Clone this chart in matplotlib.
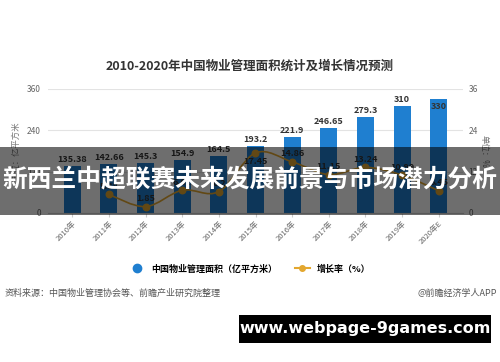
import numpy as np
import matplotlib.pyplot as plt
from matplotlib.path import Path
from matplotlib.patches import PathPatch, Rectangle
from matplotlib.lines import Line2D

plt.rcParams['font.family'] = ['Noto Sans CJK SC', 'DejaVu Sans']

years = ['2010年', '2011年', '2012年', '2013年', '2014年', '2015年',
         '2016年', '2017年', '2018年', '2019年', '2020年E']
area = [135.38, 142.66, 145.3, 154.9, 164.5, 193.2, 221.9, 246.65, 279.3, 310, 330]
growth = [None, 5.38, 1.85, 6.61, 6.2, 17.45, 14.86, 11.15, 13.24, 10.99, 6.45]

bar_color = '#1f7fd0'
line_color = '#e3a72f'


def smooth_path(xs, ys):
    # catmull-rom through the points, drawn as cubic bezier segments
    pts = np.column_stack([xs, ys])
    verts = [pts[0]]
    codes = [Path.MOVETO]
    n = len(pts)
    for i in range(n - 1):
        p0 = pts[max(i - 1, 0)]
        p1 = pts[i]
        p2 = pts[i + 1]
        p3 = pts[min(i + 2, n - 1)]
        c1 = p1 + (p2 - p0) / 6.0
        c2 = p2 - (p3 - p1) / 6.0
        verts += [c1, c2, p2]
        codes += [Path.CURVE4] * 3
    return Path(verts, codes)


fig = plt.figure(figsize=(5, 3.62), dpi=100)
ax = fig.add_axes([48 / 500, 1 - 213 / 362, 415 / 500, 124 / 362])
x = np.arange(len(years))

ax.bar(x, area, width=0.47, color=bar_color, zorder=2)
for xi, v in zip(x, area):
    if v >= 330:
        ax.text(xi, v - 8, f'{v:g}', ha='center', va='top', fontsize=6.5,
                color='#333333', fontweight='bold', zorder=5)
    else:
        ax.text(xi, v + 6, f'{v:g}', ha='center', va='bottom', fontsize=6.5,
                color='#333333', fontweight='bold', zorder=5)

ax.set_ylim(0, 360)
ax.set_yticks([0, 120, 240, 360])
ax.set_xlim(-0.66, 10.66)
ax.set_xticks(x)
ax.set_xticklabels(years, rotation=45, ha='right', rotation_mode='anchor',
                   fontsize=5.5, color='#666666')
ax.tick_params(axis='y', labelsize=6, colors='#666666', length=0, pad=5)
ax.tick_params(axis='x', length=3, color='#cccccc', pad=2)
ax.grid(axis='y', color='#e3e3e3', linewidth=0.8, zorder=0)
for s in ['top', 'right', 'left']:
    ax.spines[s].set_visible(False)
ax.spines['bottom'].set_color('#cccccc')
ax.set_ylabel('单位：亿平方米', fontsize=6, color='#777777', labelpad=5)

ax2 = ax.twinx()
ax2.set_ylim(0, 36)
ax2.set_yticks([0, 12, 24, 36])
ax2.tick_params(axis='y', labelsize=6, colors='#666666', length=0, pad=4)
for s in ax2.spines.values():
    s.set_visible(False)
ax2.set_ylabel('单位：%', fontsize=6, color='#777777', rotation=270, labelpad=8)

gx = [xi for xi, g in zip(x, growth) if g is not None]
gy = [g for g in growth if g is not None]
ax2.add_patch(PathPatch(smooth_path(gx, gy), fill=False, edgecolor=line_color,
                        linewidth=1.2, zorder=3))
ax2.scatter(gx, gy, s=22, color=line_color, zorder=4)
peak = max(gy)
for xi, g in zip(gx, gy):
    if g == peak:
        # the peak label sits under its point so it clears the bar label
        ax2.text(xi, g - 1.3, f'{g:g}', ha='center', va='top', fontsize=6.5,
                 color='#333333', fontweight='bold', zorder=5)
    else:
        ax2.text(xi, g + 1.0, f'{g:g}', ha='center', va='bottom', fontsize=6.5,
                 color='#333333', fontweight='bold', zorder=5)

fig.text(0.5, 1 - 66 / 362, '2010-2020年中国物业管理面积统计及增长情况预测',
         ha='center', va='center', fontsize=9, fontweight='bold', color='#333333')

handles = [Line2D([], [], marker='o', linestyle='none', color=bar_color, markersize=6),
           Line2D([], [], marker='o', color=line_color, markersize=4, linewidth=1.5)]
fig.legend(handles, ['中国物业管理面积（亿平方米）', '增长率（%）'], loc='center',
           bbox_to_anchor=(0.5, 1 - 269 / 362), ncol=2, frameon=False,
           handlelength=1.6, columnspacing=2.0,
           prop={'weight': 'bold', 'size': 6.5})

fig.text(0.01, 1 - 293 / 362, '资料来源：中国物业管理协会等、前瞻产业研究院整理',
         ha='left', va='center', fontsize=6.5, color='#555555')
fig.text(0.995, 1 - 293 / 362, '@前瞻经济学人APP', ha='right', va='center',
         fontsize=6.5, color='#555555')

# dark banner across the chart
fig.patches.append(Rectangle((0, 1 - 215 / 362), 1, 68 / 362, transform=fig.transFigure,
                             facecolor='black', alpha=0.57, zorder=10))
fig.text(0.5, 1 - 181 / 362, '新西兰中超联赛未来发展前景与市场潜力分析', ha='center',
         va='center', fontsize=17.8, fontweight='bold', color='white', zorder=11)

fig.patches.append(Rectangle((239 / 500, 1 - 343 / 362), 252 / 500, 28 / 362,
                             transform=fig.transFigure, facecolor='black', zorder=10))
fig.text(365 / 500, 1 - 329 / 362, 'www.webpage-9games.com', ha='center', va='center',
         fontsize=11.5, fontweight='bold', color='white', family='DejaVu Sans', zorder=11)

fig.savefig('out.png', dpi=100)
